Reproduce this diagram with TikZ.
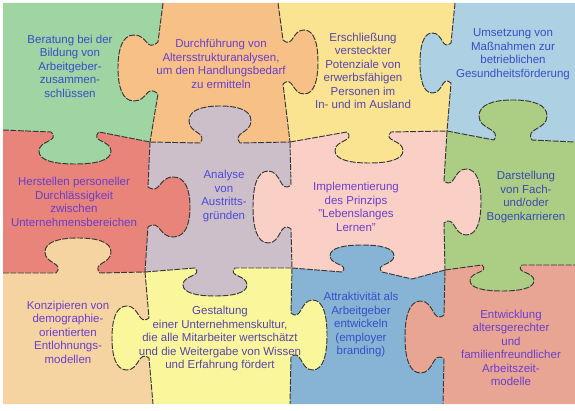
\documentclass[tikz,border=0pt]{standalone}
\usepackage{fontspec}
\setmainfont{Liberation Sans}
% horizontal knob: cx, baseline, neck half-width, head half-width, depth (+ = down)
\newcommand\hk[5]{-- ({#1-#3},{#2}) .. controls ({#1-0.6*#3},{#2+0.3*(#5)}) and ({#1-#4},{#2+0.25*(#5)}) .. ({#1-#4},{#2+0.6*(#5)}) .. controls ({#1-#4},{#2+0.9*(#5)}) and ({#1-0.55*#4},{#2+(#5)}) .. ({#1},{#2+(#5)}) .. controls ({#1+0.55*#4},{#2+(#5)}) and ({#1+#4},{#2+0.9*(#5)}) .. ({#1+#4},{#2+0.6*(#5)}) .. controls ({#1+#4},{#2+0.25*(#5)}) and ({#1+0.6*#3},{#2+0.3*(#5)}) .. ({#1+#3},{#2})}
% vertical knob: cy, baseline, neck half-width, head half-width, depth (+ = right)
\newcommand\vk[5]{-- ({#2},{#1-#3}) .. controls ({#2+0.3*(#5)},{#1-0.6*#3}) and ({#2+0.25*(#5)},{#1-#4}) .. ({#2+0.6*(#5)},{#1-#4}) .. controls ({#2+0.9*(#5)},{#1-#4}) and ({#2+(#5)},{#1-0.55*#4}) .. ({#2+(#5)},{#1}) .. controls ({#2+(#5)},{#1+0.55*#4}) and ({#2+0.9*(#5)},{#1+#4}) .. ({#2+0.6*(#5)},{#1+#4}) .. controls ({#2+0.25*(#5)},{#1+#4}) and ({#2+0.3*(#5)},{#1+0.6*#3}) .. ({#2},{#1+#3})}
\newcommand\hkf[6]{\fill[#1] ({#2-#4},{#3-0.2*(#6)}) \hk{#2}{#3}{#4}{#5}{#6} -- ({#2+#4},{#3-0.2*(#6)}) -- cycle;}
\newcommand\vkf[6]{\fill[#1] ({#3-0.2*(#6)},{#2-#4}) \vk{#2}{#3}{#4}{#5}{#6} -- ({#3-0.2*(#6)},{#2+#4}) -- cycle;}
\newcommand\hn[3]{-- ({#1-#3},{#2}) -- ({#1+#3},{#2})}
\newcommand\hnr[3]{-- ({#1+#3},{#2}) -- ({#1-#3},{#2})}
\newcommand\vn[3]{-- ({#2},{#1-#3}) -- ({#2},{#1+#3})}
\newcommand\vnr[3]{-- ({#2},{#1+#3}) -- ({#2},{#1-#3})}
\definecolor{cgA}{HTML}{9FD4A3}
\definecolor{coA}{HTML}{F6C087}
\definecolor{cyA}{HTML}{FAE491}
\definecolor{cbA}{HTML}{ADD0E2}
\definecolor{crA}{HTML}{E8847A}
\definecolor{cmA}{HTML}{CDBFC9}
\definecolor{cpA}{HTML}{FAD0C6}
\definecolor{cgB}{HTML}{ACCE84}
\definecolor{ceA}{HTML}{F6D4A2}
\definecolor{cyB}{HTML}{FAF69B}
\definecolor{cbB}{HTML}{87B4D4}
\definecolor{csA}{HTML}{E8A594}
\definecolor{tBlue}{HTML}{3550C8}
\definecolor{tViol}{HTML}{6A3ECC}
\definecolor{tSlate}{HTML}{5646AC}
\definecolor{tAna}{HTML}{4A4AD6}
\definecolor{tDark}{HTML}{3A4AB0}
\begin{document}
\begin{tikzpicture}[x=1pt,y=-1pt,
  seam/.style={draw=black!78,line width=0.95pt,dash pattern=on 6pt off 1.4pt,line join=round},
  txt/.style={align=center,inner sep=0pt,font=\fontsize{11.5}{13.5}\selectfont}]
\fill[white] (0,0) rectangle (575,411);
\useasboundingbox (0,0) rectangle (575,411);
% junctions
\coordinate (TL) at (3,3);   \coordinate (T1) at (163,3); \coordinate (T2) at (278,3);
\coordinate (T3) at (455,3); \coordinate (TR) at (575,3);
\coordinate (L1) at (3,130); \coordinate (J1) at (150,142); \coordinate (J2) at (290,142);
\coordinate (J3) at (447,131); \coordinate (R1) at (575,142);
\coordinate (L2) at (3,273); \coordinate (J4) at (145,272); \coordinate (J5) at (292,268);
\coordinate (J6) at (445,270); \coordinate (R2) at (575,265); \coordinate (K1) at (412,279);
\coordinate (BL) at (3,404); \coordinate (B1) at (153,404); \coordinate (B2) at (290,404);
\coordinate (B3) at (443,404); \coordinate (BR) at (575,404);
% cells
\fill[cgA] (TL) -- (T1) \vn{68}{158}{26} -- (J1) \hnr{75}{132}{24} -- (L1) -- cycle;
\fill[coA] (T1) -- (T2) \vn{62}{283}{22} -- (J2) \hnr{220}{143}{20} -- (J1) \vnr{68}{158}{26} -- cycle;
\fill[cyA] (T2) -- (T3) \vn{63}{451}{20} -- (J3) \hnr{369}{132}{22} -- (J2) \vnr{62}{283}{22} -- cycle;
\fill[cbA] (T3) -- (TR) -- (R1) \hnr{513}{140}{19} -- (J3) \vnr{63}{451}{20} -- cycle;
\fill[crA] (L1) \hn{75}{132}{24} -- (J1) \vn{207}{148}{20} -- (J4) \hnr{78}{273}{22} -- (L2) -- cycle;
\fill[cmA] (J1) \hn{220}{143}{20} -- (J2) \vn{207}{291}{22} -- (J5) \hnr{215}{268}{20} -- (J4) \vnr{207}{148}{20} -- cycle;
\fill[cpA] (J2) \hn{369}{132}{22} -- (J3) \vn{202}{444}{21} -- (J6) -- (K1) \hnr{362}{272}{20} -- (J5) \vnr{207}{291}{22} -- cycle;
\fill[cgB] (J3) \hn{513}{140}{19} -- (R1) -- (R2) \hnr{502}{265}{20} -- (J6) \vnr{202}{444}{21} -- cycle;
\fill[ceA] (L2) \hn{78}{273}{22} -- (J4) \vn{338}{149}{20} -- (B1) -- (BL) -- cycle;
\fill[cyB] (J4) \hn{215}{268}{20} -- (J5) \vn{335}{291}{22} -- (B2) -- (B1) \vnr{338}{149}{20} -- cycle;
\fill[cbB] (J5) \hn{362}{272}{20} -- (K1) -- (J6) \vn{337}{444}{22} -- (B3) -- (B2) \vnr{335}{291}{22} -- cycle;
\fill[csA] (J6) \hn{502}{265}{20} -- (R2) -- (BR) -- (B3) \vnr{337}{444}{22} -- cycle;
% knobs
\hkf{cgA}{75}{132}{24}{36}{32}
\hkf{cmA}{220}{143}{20}{31}{-37}
\hkf{cyA}{369}{132}{22}{34}{31}
\hkf{cgB}{513}{140}{19}{34}{-40}
\hkf{ceA}{78}{273}{22}{33}{-35}
\hkf{cmA}{215}{268}{20}{32}{28}
\hkf{cbB}{362}{272}{20}{32}{-27}
\hkf{cgB}{502}{265}{20}{32}{26}
\vkf{coA}{68}{158}{26}{33}{-40}
\vkf{coA}{62}{283}{22}{32}{35}
\vkf{cbA}{63}{451}{20}{30}{-31}
\vkf{crA}{207}{148}{20}{30}{42}
\vkf{cpA}{207}{291}{22}{36}{-38}
\vkf{cpA}{202}{444}{21}{33}{37}
\vkf{cyB}{338}{149}{20}{32}{-37}
\vkf{cyB}{335}{291}{22}{35}{36}
\vkf{csA}{337}{444}{22}{36}{-39}
% seams
\draw[seam] (L1) \hk{75}{132}{24}{36}{32} -- (J1);
\draw[seam] (J1) \hk{220}{143}{20}{31}{-37} -- (J2);
\draw[seam] (J2) \hk{369}{132}{22}{34}{31} -- (J3);
\draw[seam] (J3) \hk{513}{140}{19}{34}{-40} -- (R1);
\draw[seam] (L2) \hk{78}{273}{22}{33}{-35} -- (J4);
\draw[seam] (J4) \hk{215}{268}{20}{32}{28} -- (J5);
\draw[seam] (J5) \hk{362}{272}{20}{32}{-27} -- (K1) -- (J6);
\draw[seam] (J6) \hk{502}{265}{20}{32}{26} -- (R2);
\draw[seam] (T1) \vk{68}{158}{26}{33}{-40} -- (J1);
\draw[seam] (T2) \vk{62}{283}{22}{32}{35} -- (J2);
\draw[seam] (T3) \vk{63}{451}{20}{30}{-31} -- (J3);
\draw[seam] (J1) \vk{207}{148}{20}{30}{42} -- (J4);
\draw[seam] (J2) \vk{207}{291}{22}{36}{-38} -- (J5);
\draw[seam] (J3) \vk{202}{444}{21}{33}{37} -- (J6);
\draw[seam] (J4) \vk{338}{149}{20}{32}{-37} -- (B1);
\draw[seam] (J5) \vk{335}{291}{22}{35}{36} -- (B2);
\draw[seam] (J6) \vk{337}{444}{22}{36}{-39} -- (B3);
% texts
\node[txt,text=tBlue] (tA) at (70,66) {Beratung bei der\\Bildung von\\Arbeitgeber-\\zusammen-\\schlüssen};
\node[txt,text=tViol] (tB) at (221,64) {Durchführung von\\Altersstrukturanalysen,\\um den Handlungsbedarf\\zu ermitteln};
\node[txt,text=tSlate] (tC) at (363,71) {Erschließung\\versteckter\\Potenziale von\\erwerbsfähigen\\Personen im\\In- und im Ausland};
\node[txt,text=tBlue] (tD) at (513,54) {Umsetzung von\\Maßnahmen zur\\betrieblichen\\Gesundheitsförderung};
\node[txt,text=tViol] (tE) at (74,202) {Herstellen personeller\\Durchlässigkeit\\zwischen\\Unternehmensbereichen};
\node[txt,text=tAna] (tF) at (224,196) {Analyse\\von\\Austritts-\\gründen};
\node[txt,text=tViol] (tG) at (356,207) {Implementierung\\des Prinzips\\"Lebenslanges\\Lernen"};
\node[txt,text=tDark] (tH) at (526,197) {Darstellung\\von Fach-\\und/oder\\Bogenkarrieren};
\node[txt,text=tViol] (tI) at (68,332) {Konzipieren von\\demographie-\\orientierten\\Entlohnungs-\\modellen};
\node[txt,text=tSlate] (tJ) at (220,339) {Gestaltung\\einer Unternehmenskultur,\\die alle Mitarbeiter wertschätzt\\und die Weitergabe von Wissen\\und Erfahrung fördert};
\node[txt,text=tBlue] (tK) at (361,325) {Attraktivität als\\Arbeitgeber\\entwickeln\\(employer\\branding)};
\node[txt,text=tViol] (tL) at (511,348) {Entwicklung\\altersgerechter\\und\\familienfreundlicher\\Arbeitszeit-\\modelle};
\end{tikzpicture}
\end{document}
